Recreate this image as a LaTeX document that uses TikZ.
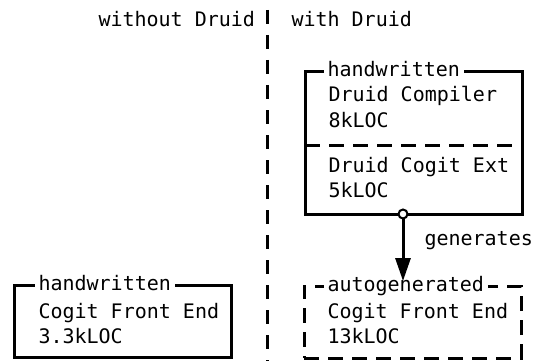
\documentclass[tikz,border=0pt]{standalone}
\usepackage{fontspec}
\setmainfont{DejaVu Sans Mono}
\usetikzlibrary{arrows.meta}
\begin{document}
\begin{tikzpicture}[x=1pt,y=-1pt,line width=3pt,
  txt/.style={inner sep=0pt,anchor=base west,font=\fontsize{20}{24}\selectfont},
  lbl/.style={txt,fill=white,inner xsep=4pt,inner ysep=0pt},
  boxshape/.style={draw,rectangle,inner sep=0pt,outer sep=0pt,anchor=north west},
  dsh/.style={dash pattern=on 15pt off 9pt}]
\useasboundingbox (0,0) rectangle (533,361);
% separator
\coordinate (vtop) at (267.5,10);
\coordinate (vbot) at (267.5,361);
\draw[dash pattern=on 14pt off 11pt] (vtop) -- (vbot);
\node[txt] (without) at (97,27) {without Druid};
\node[txt] (with) at (290,27) {with Druid};
% top right box
\node[boxshape,minimum width=217pt,minimum height=142pt] (comp) at (305,72) {};
\coordinate (divl) at (305,145);
\draw[dsh] (comp.west |- divl) -- (comp.east |- divl);
\node[lbl] (lhw1) at (322,77) {handwritten};
\node[txt] (c1) at (327,102) {Druid Compiler};
\node[txt] (c2) at (327,127) {8kLOC};
\node[txt] (e1) at (327,172) {Druid Cogit Ext};
\node[txt] (e2) at (327,197) {5kLOC};
% bottom right box
\node[boxshape,dsh,minimum width=217pt,minimum height=72pt] (auto) at (304,286) {};
\node[lbl] (lag) at (322,291) {autogenerated};
\node[txt] (a1) at (326,318) {Cogit Front End};
\node[txt] (a2) at (326,343) {13kLOC};
% bottom left box
\node[boxshape,minimum width=217pt,minimum height=72pt] (hand) at (14,285) {};
\node[lbl] (lhw2) at (33,290) {handwritten};
\node[txt] (h1) at (37,318) {Cogit Front End};
\node[txt] (h2) at (37,343) {3.3kLOC};
% arrow
\coordinate (src) at (403,214);
\draw[-{Triangle[length=23pt,width=15pt]},shorten >=5pt] (src) -- (auto.north -| src);
\draw[line width=2pt,fill=white] (src) circle (4.5pt);
\node[txt] (gen) at (423,245) {generates};
\end{tikzpicture}
\end{document}
